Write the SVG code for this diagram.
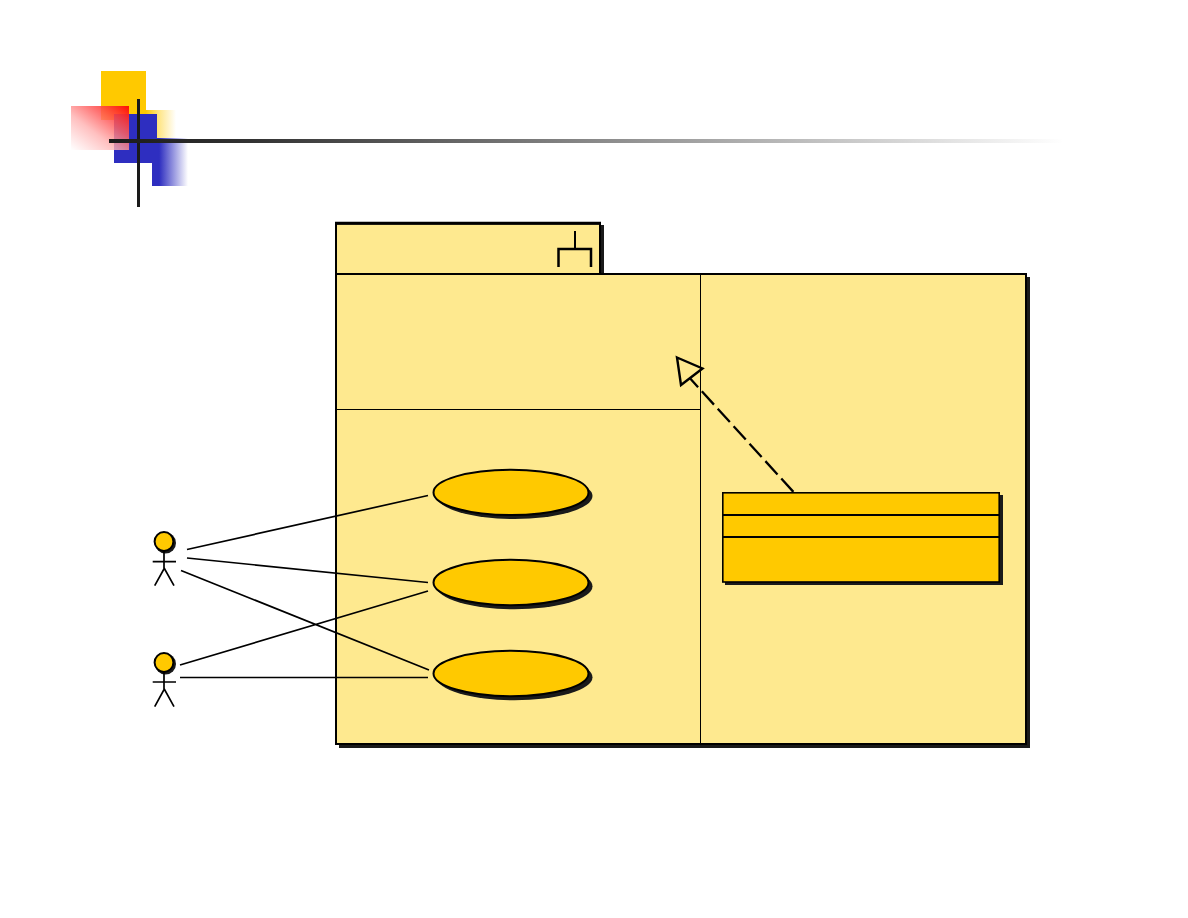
<svg xmlns="http://www.w3.org/2000/svg" width="1188" height="918" viewBox="0 0 1188 918">
<style>
.pkg{fill:#fee98f;stroke:#000;stroke-width:2}
.shadow{fill:#1a1a1a}
.oval{fill:#ffc900;stroke:#000;stroke-width:2}
.thin{stroke:#000;stroke-width:1;fill:none}
.line{stroke:#000;stroke-width:1.7;fill:none}
.head{fill:#ffc900;stroke:#000;stroke-width:2}
</style>
<defs>
<linearGradient id="fadeRed" x1="1" y1="0" x2="0" y2="1">
<stop offset="0" stop-color="#ff0a00" stop-opacity=".98"/><stop offset="0.35" stop-color="#ff6060" stop-opacity=".85"/><stop offset="0.6" stop-color="#ffb0b0" stop-opacity=".8"/><stop offset="1" stop-color="#ffffff" stop-opacity=".75"/>
</linearGradient>
<linearGradient id="fadeBlue" x1="0" y1="0" x2="1" y2="0">
<stop offset="0" stop-color="#2e2ec0"/><stop offset="0.2" stop-color="#2e2ec0"/><stop offset="1" stop-color="#2e2ec0" stop-opacity="0"/>
</linearGradient>
<linearGradient id="fadeGold" x1="0" y1="0" x2="1" y2="0">
<stop offset="0" stop-color="#ffc900"/><stop offset="0.4" stop-color="#ffc900" stop-opacity=".5"/><stop offset="1" stop-color="#ffc900" stop-opacity="0"/>
</linearGradient>
<linearGradient id="fadeBar" x1="0" y1="0" x2="1" y2="0">
<stop offset="0" stop-color="#1a1a1a"/><stop offset="0.15" stop-color="#333"/><stop offset="1" stop-color="#333" stop-opacity="0"/>
</linearGradient>
</defs>

<!-- corner ornament and rule -->
<g id="ornament">
<rect x="101" y="71" width="45" height="49" fill="#ffc900"/>
<rect x="146" y="110" width="30" height="28" fill="url(#fadeGold)"/>
<rect x="114" y="114" width="43" height="49" fill="#2e2ec0"/>
<rect x="152" y="138" width="36" height="48" fill="url(#fadeBlue)"/>
<rect x="71" y="106" width="58" height="44" fill="url(#fadeRed)"/>
<rect x="137" y="99" width="3" height="108" fill="#1a1a1a"/>
<rect x="109" y="139" width="955" height="4" fill="url(#fadeBar)"/>
</g>

<!-- package frame with tab and compartments -->
<g id="package">
<rect class="shadow" x="339" y="225" width="265" height="52"/>
<rect class="shadow" x="339" y="277" width="691" height="471"/>
<rect class="pkg" x="336" y="223.500" width="264" height="50.500"/>
<rect class="pkg" x="336" y="274" width="690" height="470"/>
<path d="M335 223.300H601" stroke="#000" stroke-width="3" fill="none"/>
<path d="M575 231V249" fill="none" stroke="#000" stroke-width="2"/>
<path d="M558.500 267V249H591V267" fill="none" stroke="#000" stroke-width="2.500"/>
<path class="thin" d="M700.500 274V744M336 409.500H700"/>
</g>

<g id="usecase-1">
<ellipse class="shadow" cx="514.500" cy="496" rx="78" ry="23"/>
<ellipse class="oval" cx="511" cy="492.400" rx="77.500" ry="22.700"/>
</g>
<g id="usecase-2">
<ellipse class="shadow" cx="514.500" cy="586.300" rx="78" ry="23"/>
<ellipse class="oval" cx="511" cy="582.500" rx="77.500" ry="22.700"/>
</g>
<g id="usecase-3">
<ellipse class="shadow" cx="514.500" cy="677.300" rx="78" ry="23"/>
<ellipse class="oval" cx="511" cy="673.500" rx="77.500" ry="22.700"/>
</g>

<g id="class-box">
<rect class="shadow" x="725" y="495" width="278" height="90"/>
<rect x="722.800" y="492.800" width="276.400" height="89.200" fill="#ffc900" stroke="#000" stroke-width="1.600"/>
<path d="M722 515H1000M722 537H1000" stroke="#000" stroke-width="2" fill="none"/>
</g>

<g id="actor-1">
<circle class="shadow" cx="165.500" cy="543" r="10.500"/>
<circle class="head" cx="164" cy="541.500" r="9.400"/>
<path class="line" d="M164 551V568.300M152.700 561.700H176M154.700 585.700L164.300 568.300L174 585.700"/>
</g>
<g id="actor-2">
<circle class="shadow" cx="165.500" cy="664" r="10.500"/>
<circle class="head" cx="164" cy="662.500" r="9.400"/>
<path class="line" d="M164 672V689M152.700 682H176M154.700 706.700L164.300 689L174 706.700"/>
</g>

<!-- associations and the realization arrow -->
<g id="connectors">
<path class="line" d="M187 549.500L428 495.500M187 558L428 582.500M181 570.500L429 670M180 665L428 591M180 677.500H428"/>
<path d="M690 378.300L793.500 492" fill="none" stroke="#000" stroke-width="2.300" stroke-dasharray="18 5.600" stroke-dashoffset="6"/>
<path d="M677 357.500L702.500 368.500L681 385Z" fill="none" stroke="#000" stroke-width="2.400"/>
</g>
</svg>
